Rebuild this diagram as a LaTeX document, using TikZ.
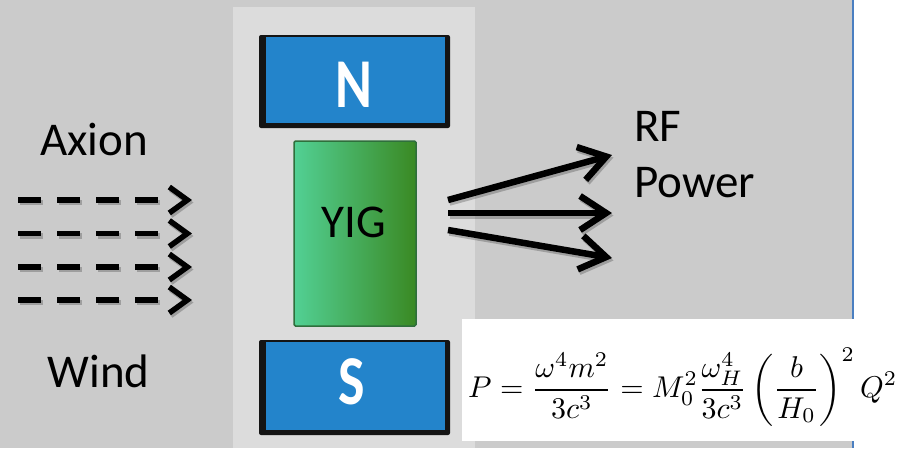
\documentclass[tikz,border=0pt]{standalone}
\usepackage[no-math]{fontspec}
\setmainfont{Carlito}
\usepackage{graphicx}
\usetikzlibrary{arrows.meta}

\definecolor{bgray}{HTML}{CBCBCB}
\definecolor{panelgray}{HTML}{DCDCDC}
\definecolor{magblue}{HTML}{2384CB}
\definecolor{edgeblue}{HTML}{4A7FC1}
\definecolor{yiglight}{HTML}{52D094}
\definecolor{yigdark}{HTML}{3A8923}
\definecolor{yigedge}{HTML}{2F6F3C}

\tikzset{
  label text/.style={font=\fontsize{47}{56}\selectfont, inner sep=0pt, text=black},
  magnet/.style={rectangle, fill=magblue, inner sep=0pt},
  pole letter/.style={font=\fontsize{70}{70}\selectfont\bfseries, inner sep=0pt, xscale=0.8, text=white},
  yigbox/.style={rectangle, draw=yigedge, line width=1.5pt, left color=yiglight, right color=yigdark, rounded corners=1.5pt, inner sep=0pt, minimum width=122pt, minimum height=185pt},
  soft shadow/.style={transform canvas={shift={(1.5pt,-2.5pt)}}, opacity=0.22},
  % four dashes, then a clear gap before the open head
  wind arrow/.style={line width=5.5pt,
    dash pattern=on 23pt off 16pt on 23pt off 16pt on 23pt off 16pt on 23pt off 120pt,
    -{Straight Barb[length=18pt, width=26pt]}},
  rf arrow/.style={line width=6.5pt, -{Straight Barb[length=26pt, width=34pt]}},
}

\begin{document}
\begin{tikzpicture}[x=1pt, y=-1pt]
\useasboundingbox (0,0) rectangle (915,448);

% slide background, right margin and its border line
\fill[bgray] (0,0) rectangle (853,448);
\fill[white] (853,0) rectangle (915,448);
\draw[edgeblue, line width=2pt] (853,0) -- (853,448);

% light panel behind the magnet assembly
\fill[panelgray] (233,7) rectangle (475,448);

% north pole
\fill[black!92, rounded corners=2pt] (259,35) rectangle (450,128);
\node[magnet, minimum width=179pt, minimum height=86pt] (N) at (355.5,80) {};
\node[pole letter] (Nl) at (354,84.5) {N};

% south pole
\fill[black!92, rounded corners=2pt] (259,340) rectangle (450,435);
\node[magnet, minimum width=179pt, minimum height=88pt] (S) at (355.5,386) {};
\node[pole letter] (Sl) at (352,381.5) {S};

% YIG sample
\node[yigbox] (yig) at (355,233.5) {};
\node[label text, anchor=base] (yigtext) at (353.5,237) {YIG};

% axion wind
\node[label text, anchor=base] (axion) at (94,155) {Axion};
\node[label text, anchor=base] (wind) at (98.5,387) {Wind};
\foreach \i/\y in {1/200,2/233.5,3/267,4/300}{
  \coordinate (w\i a) at (18,\y);
  \coordinate (w\i b) at (192,\y);
}

% RF power emitted by the sample
\node[label text, anchor=base west] (rf) at (634,141) {RF};
\node[label text, anchor=base west] (power) at (634,197) {Power};
\coordinate (r1a) at (448,200);
\coordinate (r2a) at (448,213);
\coordinate (r3a) at (448,230);
\coordinate (r1b) at (612,155);
\coordinate (r2b) at (612,213);
\coordinate (r3b) at (612,258);

% soft shadows under the arrows
\begin{scope}[soft shadow]
  \foreach \i in {1,2,3,4}{ \draw[wind arrow] (w\i a) -- (w\i b); }
  \foreach \i in {1,2,3}{ \draw[rf arrow] (r\i a) -- (r\i b); }
\end{scope}

% the arrows themselves
\foreach \i in {1,2,3,4}{ \draw[wind arrow] (w\i a) -- (w\i b); }
\foreach \i in {1,2,3}{ \draw[rf arrow] (r\i a) -- (r\i b); }

% radiated power formula
\fill[white] (462,319) rectangle (915,441);
\node[anchor=west, inner sep=0pt] (formula) at (468,387)
  {\resizebox{429pt}{!}{$\displaystyle P=\frac{\omega^4m^2}{3c^3}=M_0^2\frac{\omega_H^4}{3c^3}\left(\frac{b}{H_0}\right)^2Q^2$}};
\end{tikzpicture}
\end{document}
